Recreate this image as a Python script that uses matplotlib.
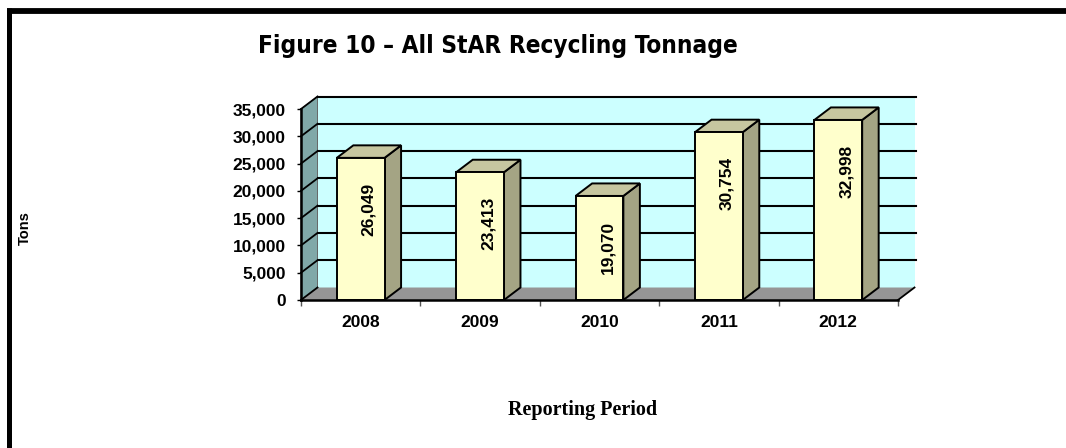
import matplotlib

matplotlib.use("Agg")
import matplotlib.pyplot as plt  # noqa: E402
from matplotlib.lines import Line2D  # noqa: E402
from matplotlib.patches import Polygon, Rectangle  # noqa: E402
from matplotlib.ticker import FuncFormatter  # noqa: E402

# Data
years = ["2008", "2009", "2010", "2011", "2012"]
tons = [26049, 23413, 19070, 30754, 32998]
y_ticks = [0, 5000, 10000, 15000, 20000, 25000, 30000, 35000]

title = "Figure 10 \u2013 All StAR Recycling Tonnage"

W, H, DPI = 1066, 448, 100
fig = plt.figure(figsize=(W / DPI, H / DPI), dpi=DPI)

# front plane of the 3D box in pixels: x 301..898, y 300 (0) .. 109 (35000)
ax = fig.add_axes([301 / W, (H - 300) / H, 597 / W, 191 / H])
x0, x1 = -0.5, len(years) - 0.5
ymax = y_ticks[-1]
ax.set_xlim(x0, x1)
ax.set_ylim(0, ymax)
ax.set_facecolor("none")

# depth offset of the "3D" effect, in data units (~16.5px right, 12.5px up)
DX = 16.5 * (x1 - x0) / 597
DY = 12.5 * ymax / 191

wall_c = "#CCFFFF"
side_wall_c = "#80A8A8"
floor_c = "#969696"
bar_front = "#FFFFCC"
bar_top = "#C6C6A0"
bar_side = "#A4A484"

kw = dict(clip_on=False)
# back wall
ax.add_patch(Rectangle((x0 + DX, DY), x1 - x0, ymax, facecolor=wall_c,
                       edgecolor="none", zorder=1, **kw))
# left wall
ax.add_patch(Polygon([(x0, 0), (x0 + DX, DY), (x0 + DX, ymax + DY), (x0, ymax)],
                     facecolor=side_wall_c, edgecolor="#555555", lw=0.6,
                     zorder=2, **kw))
# gridlines on back wall + diagonals on left wall
for v in y_ticks[1:]:
    ax.plot([x0 + DX, x1 + DX + 0.01], [v + DY, v + DY], color="black",
            lw=1.5, zorder=3, **kw)
    ax.plot([x0, x0 + DX], [v, v + DY], color="black", lw=1.3, zorder=3, **kw)
# floor
ax.add_patch(Polygon([(x0, 0), (x1, 0), (x1 + DX, DY), (x0 + DX, DY)],
                     facecolor=floor_c, edgecolor="none", zorder=4, **kw))
ax.plot([x1, x1 + DX], [0, DY], color="black", lw=1.3, zorder=4, **kw)
ax.plot([x0, x0 + DX], [0, DY], color="black", lw=1.3, zorder=4, **kw)

# bars
bw = 0.40
for i, v in enumerate(tons):
    xl, xr = i - bw / 2, i + bw / 2
    ax.add_patch(Polygon([(xr, 0), (xr + DX, DY), (xr + DX, v + DY), (xr, v)],
                         facecolor=bar_side, edgecolor="black", lw=1.4,
                         zorder=5, **kw))
    ax.add_patch(Polygon([(xl, v), (xr, v), (xr + DX, v + DY), (xl + DX, v + DY)],
                         facecolor=bar_top, edgecolor="black", lw=1.4,
                         zorder=5, **kw))
    ax.add_patch(Rectangle((xl, 0), bw, v, facecolor=bar_front,
                           edgecolor="black", lw=1.4, zorder=6, **kw))
    ax.annotate(f"{v:,}", xy=(i, v), xytext=(8, -25), textcoords="offset pixels",
                rotation=90, ha="center", va="top", fontsize=12.5,
                fontweight="bold", family="Liberation Sans", zorder=7)

# axes
for s in ("top", "right"):
    ax.spines[s].set_visible(False)
for s in ("left", "bottom"):
    ax.spines[s].set_linewidth(1.8)
    ax.spines[s].set_zorder(8)
ax.set_yticks(y_ticks)
ax.yaxis.set_major_formatter(FuncFormatter(lambda v, p: f"{int(v):,}"))
ax.tick_params(axis="y", direction="out", length=3, width=1, pad=8,
               labelsize=12.5)
ax.set_xticks(range(len(years)))
ax.set_xticklabels(years)
ax.set_xticks([x0 + k for k in range(len(years) + 1)], minor=True)
ax.tick_params(axis="x", which="major", length=0, pad=11, labelsize=12.5)
ax.tick_params(axis="x", which="minor", length=4, width=1, color="#555555")
for lab in ax.get_xticklabels() + ax.get_yticklabels():
    lab.set_fontweight("bold")
    lab.set_family("Liberation Sans")

# titles
fig.text(498 / W, (H - 53) / H, title, ha="center", va="baseline",
         fontsize=17.5, fontweight="bold",
         family=["Liberation Sans Narrow", "DejaVu Sans"], fontstretch="condensed")
fig.text(24.5 / W, (H - 228) / H, "Tons", rotation=90, ha="center", va="center",
         fontsize=10.5, fontweight="bold", family="Liberation Sans")
fig.text(583 / W, (H - 410) / H, "Reporting Period", ha="center", va="center",
         fontsize=14.5, fontweight="bold", family="Liberation Serif")

# frame lines (top and left only)
fig.add_artist(Line2D([7 / W, 1.0], [(H - 11) / H] * 2, color="black", lw=4.2,
                      solid_capstyle="butt"))
fig.add_artist(Line2D([9 / W] * 2, [0, (H - 8) / H], color="black", lw=3.6,
                      solid_capstyle="butt"))

fig.savefig("out.png", dpi=DPI)
